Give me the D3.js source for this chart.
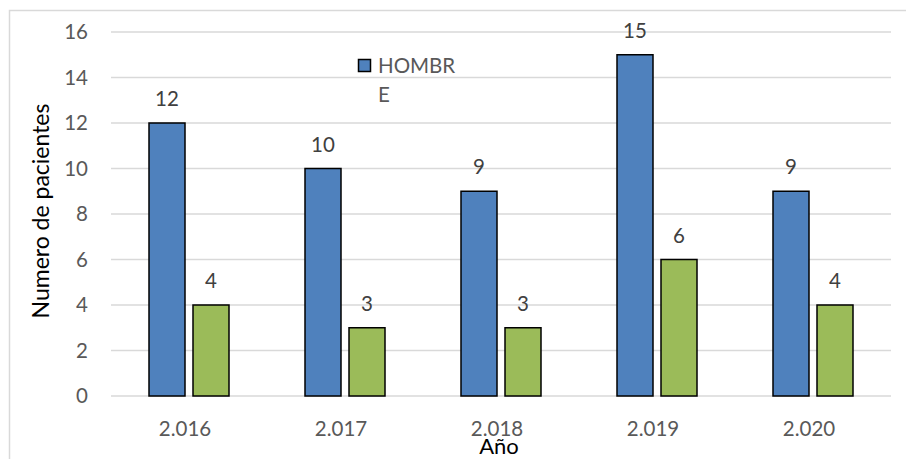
<!DOCTYPE html>
<html>
<head>
<meta charset="utf-8">
<script src="https://cdn.jsdelivr.net/npm/d3@7"></script>
<style>
  body { margin: 0; background: #fff; }
  svg { display: block; font-family: Lato, "Open Sans", sans-serif; }
</style>
</head>
<body>
<svg id="chart" width="906" height="459"></svg>
<script>
// datos
const years = ["2.016", "2.017", "2.018", "2.019", "2.020"];
const hombres = [12, 10, 9, 15, 9];
const mujeres = [4, 3, 3, 6, 4];
const yTicks = [0, 2, 4, 6, 8, 10, 12, 14, 16];

const svg = d3.select("#chart");
const margin = { left: 111, right: 15, top: 32, bottom: 63 };
const width = 906, height = 459;
const fs = 20.5;

// borde del area del grafico
svg.append("path")
    .attr("d", `M9.5,459 V10.5 H906`)
    .attr("fill", "none")
    .attr("stroke", "#d9d9d9")
    .attr("stroke-width", 1.5);

const x = d3.scaleBand()
    .domain(years)
    .range([margin.left, width - margin.right]);

const y = d3.scaleLinear()
    .domain([0, 16])
    .range([height - margin.bottom, margin.top]);

// lineas de cuadricula
svg.append("g")
    .selectAll("line")
    .data(yTicks)
    .join("line")
    .attr("x1", margin.left)
    .attr("x2", width - margin.right)
    .attr("y1", d => y(d))
    .attr("y2", d => y(d))
    .attr("stroke", "#d9d9d9")
    .attr("stroke-width", 1.5);

// etiquetas del eje y
svg.append("g")
    .selectAll("text")
    .data(yTicks)
    .join("text")
    .attr("x", 88)
    .attr("y", d => y(d))
    .attr("dy", "0.35em")
    .attr("text-anchor", "end")
    .attr("font-size", fs)
    .attr("fill", "#595959")
    .text(d => d);

// etiquetas del eje x
svg.append("g")
    .selectAll("text")
    .data(years)
    .join("text")
    .attr("x", d => x(d) + x.bandwidth() / 2 - 4)
    .attr("y", 436)
    .attr("text-anchor", "middle")
    .attr("font-size", fs)
    .attr("fill", "#595959")
    .text(d => d);

const barW = 36, gap = 8;
const series = [
    { values: hombres, color: "#4f81bd", offset: -gap / 2 - barW },
    { values: mujeres, color: "#9bbb59", offset: gap / 2 }
];

series.forEach(s => {
    const g = svg.append("g");
    g.selectAll("rect")
        .data(years)
        .join("rect")
        .attr("x", (d, i) => x(d) + x.bandwidth() / 2 + s.offset)
        .attr("y", (d, i) => y(s.values[i]))
        .attr("width", barW)
        .attr("height", (d, i) => y(0) - y(s.values[i]))
        .attr("fill", s.color)
        .attr("stroke", "#000")
        .attr("stroke-width", 1.5);

    g.selectAll("text")
        .data(years)
        .join("text")
        .attr("x", (d, i) => x(d) + x.bandwidth() / 2 + s.offset + barW / 2)
        .attr("y", (d, i) => y(s.values[i]) - 17)
        .attr("text-anchor", "middle")
        .attr("font-size", fs)
        .attr("fill", "#404040")
        .text((d, i) => s.values[i]);
});

// leyenda
svg.append("rect")
    .attr("x", 358.5)
    .attr("y", 59.5)
    .attr("width", 12)
    .attr("height", 12)
    .attr("fill", "#4f81bd")
    .attr("stroke", "#000")
    .attr("stroke-width", 1.5);
svg.append("text")
    .attr("x", 378)
    .attr("y", 73)
    .attr("font-size", fs)
    .attr("fill", "#595959")
    .text("HOMBR");
svg.append("text")
    .attr("x", 378)
    .attr("y", 102)
    .attr("font-size", fs)
    .attr("fill", "#595959")
    .text("E");

// titulos de los ejes
svg.append("text")
    .attr("transform", "translate(49,211) rotate(-90)")
    .attr("text-anchor", "middle")
    .attr("font-size", 23)
    .attr("fill", "#000")
    .text("Numero de pacientes");

svg.append("text")
    .attr("x", 499)
    .attr("y", 454)
    .attr("text-anchor", "middle")
    .attr("font-size", 22)
    .attr("fill", "#000")
    .text("Año");
</script>
</body>
</html>
